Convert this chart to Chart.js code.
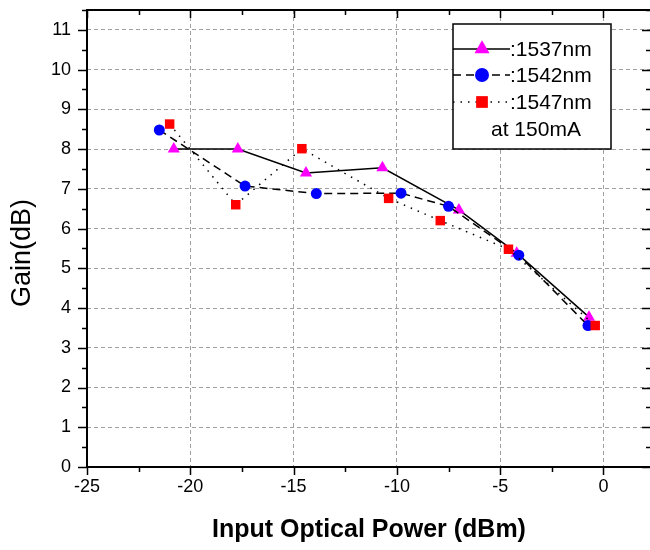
<!DOCTYPE html>
<html>
<head>
<meta charset="utf-8">
<script src="https://cdn.jsdelivr.net/npm/chart.js@4/dist/chart.umd.min.js"></script>
<style>
html,body{margin:0;padding:0;background:#fff;overflow:hidden;}
#wrap{width:652px;height:550px;}
</style>
</head>
<body>
<div id="wrap"><canvas id="c" width="652" height="550"></canvas></div>
<script>
// ---- data ----
const seriesLabels = [':1537nm', ':1542nm', ':1547nm'];
const noteText = 'at 150mA';
const power1537 = [-20.8, -17.7, -14.4, -10.7, -7.0, -4.2, -0.7];
const gain1537  = [8.0, 8.0, 7.4, 7.53, 6.47, 5.38, 3.77];
const power1542 = [-21.5, -17.35, -13.9, -9.8, -7.5, -4.1, -0.75];
const gain1542  = [8.48, 7.07, 6.88, 6.89, 6.56, 5.33, 3.56];
const power1547 = [-21.0, -17.8, -14.6, -10.4, -7.9, -4.6, -0.4];
const gain1547  = [8.63, 6.6, 8.01, 6.76, 6.2, 5.48, 3.56];
const xTickValues = [-25, -20, -15, -10, -5, 0];
const yTickValues = [0,1,2,3,4,5,6,7,8,9,10,11];
const xTitle = 'Input Optical Power (dBm)';
const yTitle = 'Gain(dB)';

const FONT = "'Liberation Sans', Arial, sans-serif";
const pts = (xs, ys) => xs.map((x, i) => ({x: x, y: ys[i]}));

const styles = [
  {color:'#FF00FF', shape:'triangle', dash:[], r:7, lr:8.7},
  {color:'#0000FF', shape:'circle', dash:[8,5], r:5.5, lr:7},
  {color:'#FF0000', shape:'rect', dash:[1.5,6], r:6.7, lr:8.3}
];

function drawMarker(ctx, shape, x, y, r, color) {
  ctx.save();
  ctx.fillStyle = color;
  ctx.beginPath();
  if (shape === 'circle') {
    ctx.arc(x, y, r, 0, Math.PI*2);
  } else if (shape === 'triangle') {
    for (let k = 0; k < 3; k++) {
      const a = k * 2*Math.PI/3;
      const px = x + Math.sin(a)*r, py = y - Math.cos(a)*r;
      if (k === 0) ctx.moveTo(px, py); else ctx.lineTo(px, py);
    }
    ctx.closePath();
  } else {
    const s = r*Math.SQRT1_2;
    ctx.rect(x - s, y - s, 2*s, 2*s);
  }
  ctx.fill();
  ctx.restore();
}

const framePlugin = {
  id: 'frame',
  afterDraw(chart) {
    const {ctx, chartArea: a, scales: {x, y}} = chart;
    ctx.save();
    ctx.strokeStyle = '#000';
    ctx.lineWidth = 2;
    ctx.strokeRect(a.left, a.top, a.right - a.left, a.bottom - a.top);
    ctx.lineWidth = 1.5;
    ctx.beginPath();
    for (let v = x.min - (x.min % 2.5); v <= x.max + 1e-9; v += 2.5) {
      const px = Math.round(x.getPixelForValue(v)) + 0.5;
      const major = Math.abs(v % 5) < 1e-9;
      const len = major ? 8 : 5;
      ctx.moveTo(px, a.bottom); ctx.lineTo(px, a.bottom + len);
      ctx.moveTo(px, a.top); ctx.lineTo(px, a.top + len);
    }
    for (let v = y.min; v <= y.max + 1e-9; v += 0.5) {
      const py = Math.round(y.getPixelForValue(v)) + 0.5;
      const major = Math.abs(v % 1) < 1e-9;
      const len = major ? 9 : 5;
      ctx.moveTo(a.left, py); ctx.lineTo(a.left - len, py);
      ctx.moveTo(a.right, py); ctx.lineTo(a.right - len, py);
    }
    ctx.stroke();

    // y-axis title
    ctx.save();
    ctx.translate(23, 253);
    ctx.rotate(-Math.PI / 2);
    ctx.font = '27px ' + FONT;
    ctx.fillStyle = '#000';
    ctx.textAlign = 'center';
    ctx.textBaseline = 'middle';
    ctx.fillText(yTitle, 0, 0);
    ctx.restore();

    // legend box
    const bx = 453, by = 24, bw = 158, bh = 125;
    ctx.fillStyle = '#fff';
    ctx.fillRect(bx, by, bw, bh);
    ctx.lineWidth = 1.5;
    ctx.strokeStyle = '#000';
    ctx.strokeRect(bx, by, bw, bh);
    const rows = [49, 75, 102];
    ctx.font = '21px ' + FONT;
    ctx.textBaseline = 'middle';
    ctx.textAlign = 'left';
    chart.data.datasets.forEach((ds, i) => {
      const st = styles[i];
      const ry = rows[i];
      ctx.save();
      ctx.strokeStyle = '#000';
      ctx.lineWidth = 1.5;
      ctx.setLineDash(st.dash);
      ctx.beginPath();
      ctx.moveTo(bx, ry); ctx.lineTo(bx + 57, ry);
      ctx.stroke();
      ctx.restore();
      drawMarker(ctx, st.shape, bx + 29, ry, st.lr, st.color);
      ctx.fillStyle = '#000';
      ctx.fillText(ds.label, bx + 57, ry + 1);
    });
    ctx.fillText(noteText, bx + 38, 130);
    ctx.restore();
  }
};

const datasets = [
  {label: seriesLabels[0], data: pts(power1537, gain1537), order: 3},
  {label: seriesLabels[1], data: pts(power1542, gain1542), order: 2},
  {label: seriesLabels[2], data: pts(power1547, gain1547), order: 1}
].map((d, i) => Object.assign(d, {
  borderColor: '#000',
  borderWidth: 1.5,
  borderDash: styles[i].dash,
  backgroundColor: styles[i].color,
  pointBackgroundColor: styles[i].color,
  pointBorderColor: styles[i].color,
  pointBorderWidth: 0,
  pointStyle: styles[i].shape,
  pointRadius: styles[i].r,
  pointHoverRadius: styles[i].r,
  tension: 0,
  fill: false
}));

new Chart(document.getElementById('c'), {
  type: 'line',
  data: {datasets},
  plugins: [framePlugin],
  options: {
    responsive: false,
    animation: false,
    layout: {autoPadding: false, padding: {top: 10, right: 1, left: 0, bottom: 0}},
    plugins: {legend: {display: false}, tooltip: {enabled: false}},
    scales: {
      x: {
        type: 'linear',
        min: -25, max: 2.3,
        afterBuildTicks: s => { s.ticks = xTickValues.map(v => ({value: v})); },
        afterFit: s => { s.height = 83; s.paddingLeft = 0; s.paddingRight = 0; },
        ticks: {
          font: {family: FONT, size: 18}, color: '#000', padding: 9,
          callback: v => String(v)
        },
        grid: {color: '#a0a0a0', lineWidth: 1, drawTicks: false},
        border: {display: false, dash: [4, 3]},
        title: {display: true, text: xTitle, color: '#000',
                font: {family: FONT, size: 25, weight: 'bold'}, padding: {top: 0, bottom: 5}}
      },
      y: {
        type: 'linear',
        min: 0, max: 11.5,
        afterBuildTicks: s => { s.ticks = yTickValues.map(v => ({value: v})); },
        afterFit: s => { s.width = 87; s.paddingTop = 0; s.paddingBottom = 0; },
        ticks: {
          font: {family: FONT, size: 18}, color: '#000', padding: 16,
          callback: v => String(v)
        },
        grid: {color: '#a0a0a0', lineWidth: 1, drawTicks: false},
        border: {display: false, dash: [4, 3]},
        title: {display: false, text: yTitle}
      }
    }
  }
});
</script>
</body>
</html>
